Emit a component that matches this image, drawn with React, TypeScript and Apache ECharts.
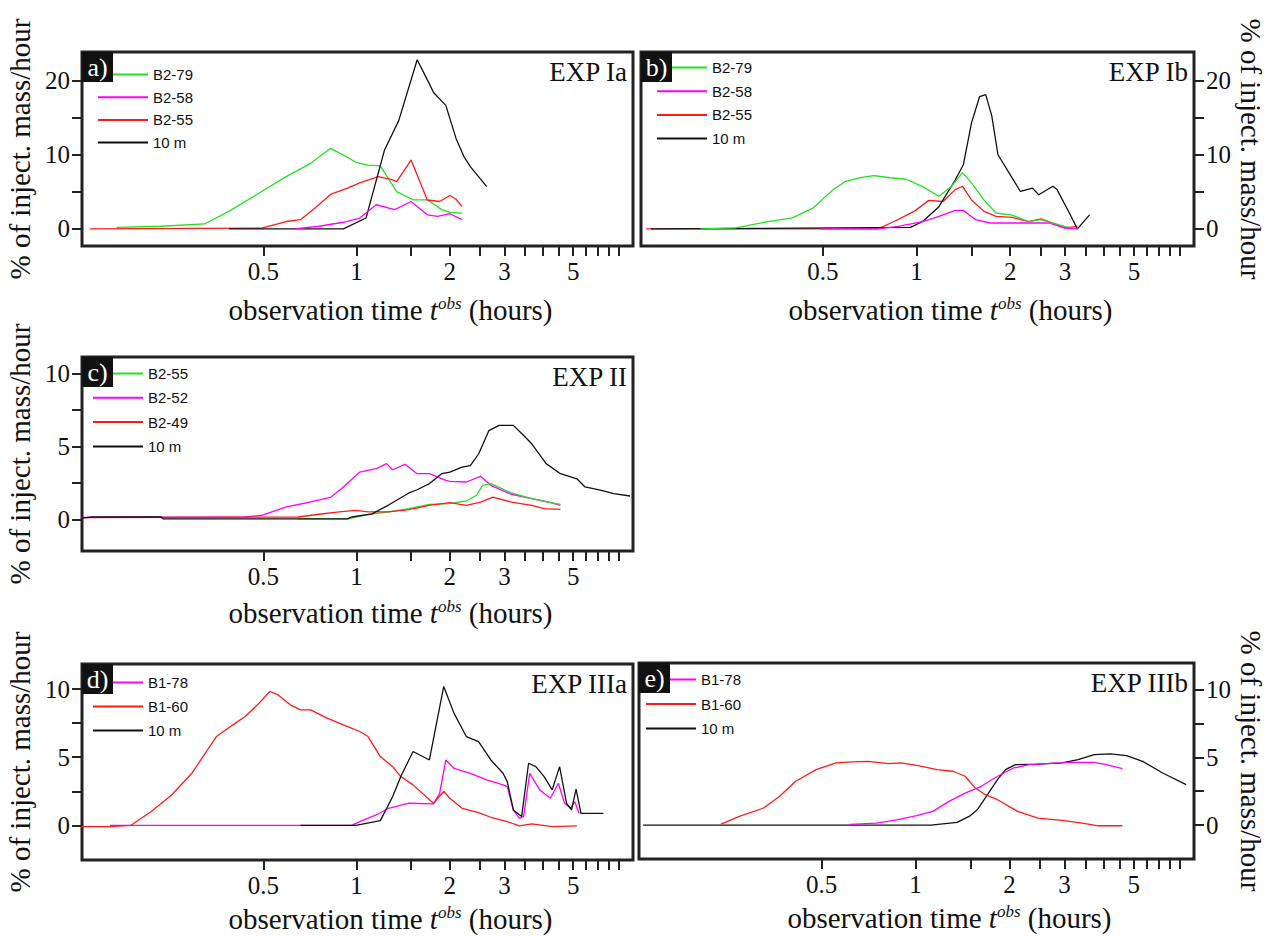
import { useEffect, useRef } from "react";
import * as echarts from "echarts";

// ---------- axis ticks / labels ----------
const X_MIN = 0.13;
const X_MAX = 7.8;
const X_TICKS = [0.5, 1, 1.5, 2, 2.5, 3, 3.5, 4, 4.5, 5, 5.5, 6, 6.5, 7];
const X_LABELS = [0.5, 1, 2, 3, 5];
const Y_TICKS_20 = [0, 5, 10, 15, 20];
const Y_LABELS_20 = [0, 10, 20];
const Y_TICKS_10 = [0, 2.5, 5, 7.5, 10];
const Y_LABELS_10 = [0, 5, 10];

// ---------- panel a (EXP Ia): [t hours, % mass/hour] ----------
const a_B2_79: [number, number][] = [[0.168, 0.2], [0.234, 0.36], [0.323, 0.67], [0.387, 2.37], [0.494, 5.04], [0.593, 7.05], [0.711, 8.84], [0.823, 10.85], [0.907, 9.96], [1.0, 8.93], [1.089, 8.6], [1.193, 8.5], [1.347, 5.04], [1.521, 3.93], [1.692, 3.93], [1.883, 2.6], [2.0, 2.23], [2.19, 2.14]];
const a_B2_58: [number, number][] = [[0.63, 0], [0.756, 0.36], [0.907, 0.9], [1.024, 1.47], [1.157, 3.26], [1.327, 2.6], [1.499, 3.7], [1.692, 1.9], [1.827, 1.7], [2.0, 2.05], [2.19, 1.25]];
const a_B2_55: [number, number][] = [[0.138, 0], [0.494, 0.1], [0.593, 1.0], [0.659, 1.25], [0.733, 2.8], [0.828, 4.7], [0.935, 5.5], [1.024, 6.2], [1.175, 7.05], [1.307, 6.6], [1.347, 6.38], [1.499, 9.29], [1.692, 3.9], [1.854, 3.7], [2.0, 4.5], [2.094, 4.0], [2.19, 3.0]];
const a_10m: [number, number][] = [[0.387, 0], [0.907, 0], [1.073, 1.47], [1.23, 10.6], [1.368, 14.6], [1.569, 22.8], [1.718, 19.55], [1.771, 18.4], [1.941, 16.65], [2.094, 12.2], [2.224, 9.7], [2.329, 8.4], [2.63, 5.7]];

// ---------- panel b (EXP Ib) ----------
const b_B2_79: [number, number][] = [[0.202, 0], [0.262, 0.13], [0.333, 1.0], [0.399, 1.5], [0.464, 2.8], [0.539, 5.3], [0.59, 6.4], [0.666, 6.95], [0.729, 7.2], [0.822, 6.9], [0.927, 6.7], [1.046, 5.7], [1.18, 4.4], [1.292, 5.7], [1.406, 7.6], [1.502, 6.2], [1.644, 3.95], [1.8, 2.15], [2.03, 1.85], [2.29, 1.0], [2.51, 1.25], [2.745, 0.8], [3.0, 0.3], [3.29, 0]];
const b_B2_58: [number, number][] = [[0.492, 0], [0.751, 0], [0.873, 0.35], [1.046, 1.0], [1.18, 1.7], [1.331, 2.5], [1.414, 2.5], [1.548, 1.25], [1.72, 0.8], [2.093, 0.8], [2.664, 0.8], [3.0, 0.1], [3.29, 0]];
const b_B2_55: [number, number][] = [[0.135, 0], [0.751, 0], [0.847, 1.0], [0.985, 2.4], [1.095, 3.85], [1.217, 3.7], [1.331, 5.3], [1.406, 5.75], [1.502, 3.9], [1.644, 2.4], [1.8, 1.7], [2.03, 1.55], [2.29, 1.0], [2.51, 1.35], [2.745, 0.8], [3.0, 0.15], [3.29, 0.35]];
const b_10m: [number, number][] = [[0.14, 0], [0.956, 0.2], [1.046, 1.0], [1.18, 3.0], [1.331, 6.6], [1.414, 8.65], [1.502, 14.3], [1.595, 17.85], [1.669, 18.1], [1.746, 15.2], [1.827, 10.0], [1.97, 7.75], [2.157, 5.05], [2.36, 5.5], [2.47, 4.6], [2.745, 5.75], [2.83, 5.3], [3.1, 2.15], [3.29, 0], [3.6, 1.9]];

// ---------- panel c (EXP II) ----------
const c_B2_55: [number, number][] = [[0.649, 0.05], [0.935, 0.05], [1.089, 0.34], [1.268, 0.53], [1.476, 0.75], [1.718, 1.05], [2.0, 1.1], [2.26, 1.28], [2.44, 1.67], [2.55, 2.35], [2.712, 2.47], [3.157, 1.83], [3.676, 1.44], [4.15, 1.2], [4.55, 1.05]];
const c_B2_52: [number, number][] = [[0.129, 0.15], [0.437, 0.18], [0.494, 0.3], [0.593, 0.87], [0.711, 1.21], [0.828, 1.55], [0.907, 2.24], [1.024, 3.26], [1.157, 3.49], [1.249, 3.84], [1.307, 3.42], [1.432, 3.79], [1.569, 3.15], [1.718, 3.15], [1.941, 2.69], [2.0, 2.63], [2.26, 2.58], [2.513, 2.97], [2.712, 2.35], [3.157, 1.74], [3.676, 1.44], [4.15, 1.21], [4.55, 0.98]];
const c_B2_49: [number, number][] = [[0.129, 0.14], [0.649, 0.18], [0.756, 0.37], [0.88, 0.53], [0.994, 0.64], [1.089, 0.53], [1.268, 0.53], [1.476, 0.68], [1.718, 0.98], [2.0, 1.16], [2.26, 0.98], [2.513, 1.2], [2.754, 1.55], [3.157, 1.2], [3.676, 0.98], [4.03, 0.75], [4.55, 0.7]];
const c_10m: [number, number][] = [[0.129, 0.11], [0.14, 0.18], [0.234, 0.18], [0.238, 0.05], [0.935, 0.05], [0.964, 0.18], [1.122, 0.4], [1.268, 1.0], [1.476, 1.83], [1.569, 2.05], [1.718, 2.47], [1.883, 3.15], [2.0, 3.26], [2.19, 3.6], [2.329, 3.7], [2.476, 4.5], [2.672, 6.1], [2.883, 6.46], [3.206, 6.46], [3.41, 5.9], [3.676, 5.2], [4.09, 3.84], [4.55, 3.15], [5.14, 2.8], [5.46, 2.24], [6.17, 2.0], [6.75, 1.78], [7.63, 1.62]];

// ---------- panel d (EXP IIIa) ----------
const d_B1_78: [number, number][] = [[0.16, 0], [0.964, 0], [1.024, 0.27], [1.157, 0.76], [1.268, 1.25], [1.476, 1.62], [1.771, 1.57], [1.854, 2.35], [1.941, 4.8], [2.062, 4.19], [2.329, 3.82], [2.63, 3.33], [2.97, 2.97], [3.064, 2.84], [3.206, 1.13], [3.354, 0.51], [3.46, 0.64], [3.62, 3.82], [3.9, 2.6], [4.22, 1.99], [4.48, 3.09], [4.69, 1.62], [4.91, 1.25], [5.06, 1.74], [5.22, 0.88]];
const d_B1_60: [number, number][] = [[0.129, -0.1], [0.16, -0.1], [0.187, 0], [0.217, 1.0], [0.253, 2.23], [0.294, 3.82], [0.353, 6.52], [0.399, 7.38], [0.437, 7.99], [0.479, 8.85], [0.525, 9.83], [0.558, 9.58], [0.611, 8.85], [0.659, 8.48], [0.711, 8.48], [0.803, 7.87], [0.935, 7.25], [1.024, 6.89], [1.089, 6.52], [1.193, 5.05], [1.307, 4.31], [1.389, 3.58], [1.521, 2.97], [1.771, 1.62], [1.911, 2.48], [2.0, 1.99], [2.19, 1.25], [2.476, 0.93], [2.712, 0.59], [3.064, 0.27], [3.354, -0.05], [3.676, 0.1], [4.28, -0.1], [5.14, -0.05]];
const d_10m: [number, number][] = [[0.659, 0], [0.994, 0], [1.193, 0.34], [1.307, 2.1], [1.389, 3.58], [1.521, 5.42], [1.718, 4.8], [1.911, 10.2], [2.062, 8.24], [2.26, 6.52], [2.476, 6.15], [2.712, 4.8], [2.97, 3.82], [3.064, 3.21], [3.206, 1.13], [3.41, 0.64], [3.59, 4.56], [3.79, 4.31], [4.03, 3.58], [4.28, 2.6], [4.52, 4.31], [4.76, 1.62], [4.94, 1.13], [5.11, 2.65], [5.3, 0.88], [6.26, 0.88]];

// ---------- panel e (EXP IIIb) ----------
const e_B1_78: [number, number][] = [[0.618, 0.05], [0.749, 0.15], [0.87, 0.39], [1.009, 0.69], [1.137, 1.01], [1.28, 1.75], [1.442, 2.36], [1.624, 2.86], [1.83, 3.6], [2.06, 4.21], [2.32, 4.46], [2.614, 4.53], [3.124, 4.63], [3.737, 4.63], [4.08, 4.46], [4.6, 4.16]];
const e_B1_60: [number, number][] = [[0.238, 0.07], [0.2725, 0.64], [0.326, 1.26], [0.367, 2.12], [0.413, 3.23], [0.48, 4.09], [0.5565, 4.58], [0.627, 4.66], [0.706, 4.7], [0.819, 4.53], [0.896, 4.58], [1.02, 4.38], [1.171, 4.09], [1.318, 3.97], [1.442, 3.6], [1.553, 2.73], [1.673, 2.24], [1.83, 1.87], [2.123, 1.01], [2.464, 0.52], [2.944, 0.34], [3.418, 0.15], [3.85, -0.05], [4.6, -0.05]];
const e_10m: [number, number][] = [[0.134, 0], [1.12, 0], [1.359, 0.2], [1.485, 0.64], [1.576, 1.13], [1.673, 2.0], [1.83, 3.35], [1.942, 4.09], [2.09, 4.46], [2.464, 4.5], [2.944, 4.58], [3.317, 4.83], [3.737, 5.2], [4.21, 5.25], [4.74, 5.12], [5.34, 4.7], [6.19, 3.84], [7.36, 2.98]];

const GREEN = "#22e022";
const MAGENTA = "#ff00ff";
const RED = "#ff1a1a";
const BLACK = "#111111";
const SERIF = "Liberation Serif";
const SANS = "Liberation Sans";

type S = { name: string; data: [number, number][]; color: string };
type P = {
  id: string; left: number; top: number; width: number; height: number;
  yMin: number; yMax: number; yTicks: number[]; yLabels: number[];
  side: "left" | "right"; label: string; title: string; xNameGap: number;
  legendLeft: number; legendTop: number; legendGap: number;
  legendOrder: string[]; series: S[];
};

const PANELS: P[] = [
  {
    id: "a", left: 82, top: 52, width: 551, height: 194, yMin: -2.3, yMax: 23.85,
    yTicks: Y_TICKS_20, yLabels: Y_LABELS_20, side: "left", label: "a)", title: "EXP Ia", xNameGap: 49,
    legendLeft: 98, legendTop: 67, legendGap: 7.7,
    legendOrder: ["B2-79", "B2-58", "B2-55", "10 m"],
    series: [
      { name: "B2-79", data: a_B2_79, color: GREEN },
      { name: "B2-55", data: a_B2_55, color: RED },
      { name: "10 m", data: a_10m, color: BLACK },
      { name: "B2-58", data: a_B2_58, color: MAGENTA },
    ],
  },
  {
    id: "b", left: 641, top: 52, width: 553, height: 194, yMin: -2.3, yMax: 23.85,
    yTicks: Y_TICKS_20, yLabels: Y_LABELS_20, side: "right", label: "b)", title: "EXP Ib", xNameGap: 49,
    legendLeft: 657, legendTop: 60, legendGap: 8.7,
    legendOrder: ["B2-79", "B2-58", "B2-55", "10 m"],
    series: [
      { name: "B2-55", data: b_B2_55, color: RED },
      { name: "10 m", data: b_10m, color: BLACK },
      { name: "B2-79", data: b_B2_79, color: GREEN },
      { name: "B2-58", data: b_B2_58, color: MAGENTA },
    ],
  },
  {
    id: "c", left: 82, top: 357, width: 551, height: 194, yMin: -2.15, yMax: 11.15,
    yTicks: Y_TICKS_10, yLabels: Y_LABELS_10, side: "left", label: "c)", title: "EXP II", xNameGap: 47,
    legendLeft: 93, legendTop: 366, legendGap: 9.3,
    legendOrder: ["B2-55", "B2-52", "B2-49", "10 m"],
    series: [
      { name: "B2-52", data: c_B2_52, color: MAGENTA },
      { name: "B2-55", data: c_B2_55, color: GREEN },
      { name: "B2-49", data: c_B2_49, color: RED },
      { name: "10 m", data: c_10m, color: BLACK },
    ],
  },
  {
    id: "d", left: 82, top: 664, width: 551, height: 196, yMin: -2.55, yMax: 11.85,
    yTicks: Y_TICKS_10, yLabels: Y_LABELS_10, side: "left", label: "d)", title: "EXP IIIa", xNameGap: 44,
    legendLeft: 93, legendTop: 675, legendGap: 9,
    legendOrder: ["B1-78", "B1-60", "10 m"],
    series: [
      { name: "B1-78", data: d_B1_78, color: MAGENTA },
      { name: "B1-60", data: d_B1_60, color: RED },
      { name: "10 m", data: d_10m, color: BLACK },
    ],
  },
  {
    id: "e", left: 639, top: 663, width: 555, height: 196, yMin: -2.5, yMax: 11.95,
    yTicks: Y_TICKS_10, yLabels: Y_LABELS_10, side: "right", label: "e)", title: "EXP IIIb", xNameGap: 44,
    legendLeft: 646, legendTop: 672, legendGap: 9.5,
    legendOrder: ["B1-78", "B1-60", "10 m"],
    series: [
      { name: "10 m", data: e_10m, color: BLACK },
      { name: "B1-60", data: e_B1_60, color: RED },
      { name: "B1-78", data: e_B1_78, color: MAGENTA },
    ],
  },
];

function buildOption(): any {
  const opt: any = {
    animation: false,
    backgroundColor: "#ffffff",
    grid: [], xAxis: [], yAxis: [], series: [], legend: [], graphic: [],
  };
  PANELS.forEach((p, i) => {
    opt.grid.push({
      left: p.left, top: p.top, width: p.width, height: p.height,
      show: true, borderColor: "#222", borderWidth: 3, backgroundColor: "transparent",
      containLabel: false, outerBoundsMode: "none",
    });
    opt.xAxis.push({
      type: "log", logBase: 10, gridIndex: i, min: X_MIN, max: X_MAX,
      axisLine: { show: false, onZero: false },
      splitLine: { show: false }, minorTick: { show: false }, minorSplitLine: { show: false },
      axisTick: { show: true, customValues: X_TICKS, length: 10, inside: false, lineStyle: { color: "#222", width: 2 } },
      axisLabel: {
        customValues: X_LABELS, margin: 13, fontSize: 25, fontFamily: SERIF, color: "#111",
        formatter: (v: number) => String(Math.round(v * 10) / 10),
      },
      name: "observation time {it|t}{sup|obs} (hours)",
      nameLocation: "middle", nameGap: p.xNameGap,
      nameTextStyle: {
        fontFamily: SERIF, fontSize: 29, color: "#111", lineHeight: 30, padding: [0, 0, 0, 66],
        rich: {
          it: { fontFamily: SERIF, fontSize: 29, fontStyle: "italic", color: "#111", lineHeight: 30 },
          sup: { fontFamily: SERIF, fontSize: 17, fontStyle: "italic", color: "#111", verticalAlign: "top", lineHeight: 18 },
        },
      },
    });
    opt.yAxis.push({
      type: "value", gridIndex: i, min: p.yMin, max: p.yMax, position: p.side,
      axisLine: { show: false, onZero: false },
      splitLine: { show: false },
      axisTick: { show: true, customValues: p.yTicks, length: 10, inside: false, lineStyle: { color: "#222", width: 2 } },
      axisLabel: { customValues: p.yLabels, margin: 12, fontSize: 25, fontFamily: SERIF, color: "#111" },
      name: "% of inject. mass/hour", nameLocation: "middle",
      nameRotate: p.side === "left" ? 90 : -90,
      nameGap: p.side === "left" ? 46 : 40,
      nameTextStyle: { fontFamily: SERIF, fontSize: 29, color: "#111", lineHeight: 32 },
    });
    p.series.forEach((s) => {
      opt.series.push({
        type: "line", name: p.id + "|" + s.name, xAxisIndex: i, yAxisIndex: i,
        data: s.data, symbol: "none", showSymbol: false, silent: true, clip: true,
        color: s.color, itemStyle: { color: s.color }, lineStyle: { color: s.color, width: 1.3 },
      });
    });
    opt.legend.push({
      orient: "vertical", left: p.legendLeft, top: p.legendTop, padding: 0,
      itemWidth: 50, itemHeight: 2, itemGap: p.legendGap, selectedMode: false,
      icon: "rect",
      data: p.legendOrder.map((n) => p.id + "|" + n),
      formatter: (n: string) => n.split("|")[1],
      textStyle: { fontFamily: SANS, fontSize: 15, color: "#111", lineHeight: 14 },
    });
    opt.graphic.push({
      type: "rect", left: p.left, top: p.top, z: 100,
      shape: { width: 31, height: 30 }, style: { fill: "#111" },
    });
    opt.graphic.push({
      type: "text", x: p.left + 15.5, y: p.top + 15, z: 101,
      style: { text: p.label, fill: "#fff", font: `26px ${SERIF}`, align: "center", verticalAlign: "middle" },
    });
    opt.graphic.push({
      type: "text", x: p.left + p.width - 6, y: p.top + 20, z: 101,
      style: { text: p.title, fill: "#111", font: `27px ${SERIF}`, align: "right", verticalAlign: "middle" },
    });
  });
  return opt;
}

export default function App() {
  const ref = useRef<HTMLDivElement>(null);
  useEffect(() => {
    if (!ref.current) return;
    const chart = echarts.init(ref.current, undefined, { renderer: "svg" });
    chart.setOption(buildOption());
    return () => chart.dispose();
  }, []);
  return (
    <div
      ref={ref}
      style={{ position: "absolute", left: 0, top: 0, width: 1267, height: 936, background: "#fff" }}
    />
  );
}
